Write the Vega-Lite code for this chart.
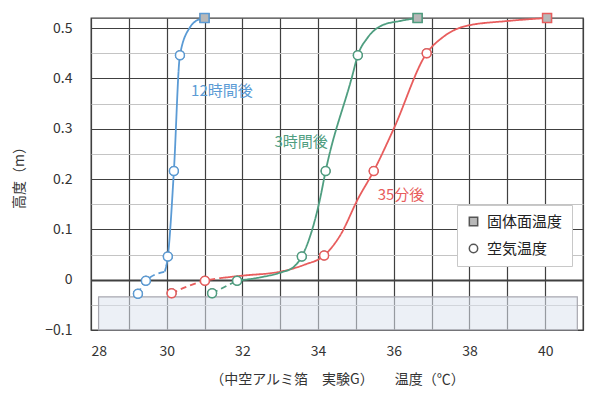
{
  "$schema": "https://vega.github.io/schema/vega-lite/v6.json",
  "width": 492,
  "height": 312,
  "autosize": "none",
  "padding": {"left": 91, "top": 18, "right": 17, "bottom": 77},
  "background": "white",
  "config": {
    "font": "Noto Sans CJK JP",
    "view": {"stroke": "#404040", "strokeWidth": 1.3},
    "axis": {"labelFont": "Noto Sans CJK JP", "titleFont": "Noto Sans CJK JP", "labelColor": "#333", "titleColor": "#333", "titleFontWeight": "normal", "domain": false, "ticks": false},
    "legend": {"orient": "none", "legendX": 366, "legendY": 187, "fillColor": "white", "strokeColor": "#c8c8c8", "padding": 9, "labelFont": "Noto Sans CJK JP", "labelFontSize": 15, "labelColor": "#222", "rowPadding": 11, "symbolSize": 70, "labelOffset": 6}
  },
  "datasets": {
    "lines": [
      {"t": 29.24, "h": -0.028, "series": "12時間後", "seg": "b1", "style": "dashed"},
      {"t": 29.45, "h": -0.002, "series": "12時間後", "seg": "b1", "style": "dashed"},
      {"t": 29.95, "h": 0.016, "series": "12時間後", "seg": "b1", "style": "dashed"},
      {"t": 29.95, "h": 0.016, "series": "12時間後", "seg": "b2", "style": "solid"},
      {"t": 30.03, "h": 0.046, "series": "12時間後", "seg": "b2", "style": "solid"},
      {"t": 30.19, "h": 0.216, "series": "12時間後", "seg": "b2", "style": "solid"},
      {"t": 30.35, "h": 0.446, "series": "12時間後", "seg": "b2", "style": "solid"},
      {"t": 30.62, "h": 0.502, "series": "12時間後", "seg": "b2", "style": "solid"},
      {"t": 30.88, "h": 0.518, "series": "12時間後", "seg": "b2", "style": "solid"},
      {"t": 31.0, "h": 0.52, "series": "12時間後", "seg": "b2", "style": "solid"},
      {"t": 30.13, "h": -0.027, "series": "35分後", "seg": "r1", "style": "dashed"},
      {"t": 31.01, "h": -0.002, "series": "35分後", "seg": "r1", "style": "dashed"},
      {"t": 31.4, "h": 0.003, "series": "35分後", "seg": "r1", "style": "dashed"},
      {"t": 31.4, "h": 0.003, "series": "35分後", "seg": "r2", "style": "solid"},
      {"t": 32.0, "h": 0.008, "series": "35分後", "seg": "r2", "style": "solid"},
      {"t": 33.0, "h": 0.016, "series": "35分後", "seg": "r2", "style": "solid"},
      {"t": 33.65, "h": 0.03, "series": "35分後", "seg": "r2", "style": "solid"},
      {"t": 34.16, "h": 0.048, "series": "35分後", "seg": "r2", "style": "solid"},
      {"t": 34.6, "h": 0.09, "series": "35分後", "seg": "r2", "style": "solid"},
      {"t": 35.05, "h": 0.16, "series": "35分後", "seg": "r2", "style": "solid"},
      {"t": 35.47, "h": 0.216, "series": "35分後", "seg": "r2", "style": "solid"},
      {"t": 36.0, "h": 0.3, "series": "35分後", "seg": "r2", "style": "solid"},
      {"t": 36.87, "h": 0.45, "series": "35分後", "seg": "r2", "style": "solid"},
      {"t": 37.3, "h": 0.482, "series": "35分後", "seg": "r2", "style": "solid"},
      {"t": 37.9, "h": 0.504, "series": "35分後", "seg": "r2", "style": "solid"},
      {"t": 39.0, "h": 0.514, "series": "35分後", "seg": "r2", "style": "solid"},
      {"t": 40.05, "h": 0.52, "series": "35分後", "seg": "r2", "style": "solid"},
      {"t": 31.2, "h": -0.027, "series": "3時間後", "seg": "g1", "style": "dashed"},
      {"t": 31.86, "h": -0.002, "series": "3時間後", "seg": "g1", "style": "dashed"},
      {"t": 31.86, "h": -0.002, "series": "3時間後", "seg": "g2", "style": "solid"},
      {"t": 32.5, "h": 0.005, "series": "3時間後", "seg": "g2", "style": "solid"},
      {"t": 33.0, "h": 0.014, "series": "3時間後", "seg": "g2", "style": "solid"},
      {"t": 33.35, "h": 0.025, "series": "3時間後", "seg": "g2", "style": "solid"},
      {"t": 33.57, "h": 0.046, "series": "3時間後", "seg": "g2", "style": "solid"},
      {"t": 34.05, "h": 0.16, "series": "3時間後", "seg": "g2", "style": "solid"},
      {"t": 34.2, "h": 0.216, "series": "3時間後", "seg": "g2", "style": "solid"},
      {"t": 34.9, "h": 0.404, "series": "3時間後", "seg": "g2", "style": "solid"},
      {"t": 35.05, "h": 0.446, "series": "3時間後", "seg": "g2", "style": "solid"},
      {"t": 35.3, "h": 0.48, "series": "3時間後", "seg": "g2", "style": "solid"},
      {"t": 35.68, "h": 0.505, "series": "3時間後", "seg": "g2", "style": "solid"},
      {"t": 36.16, "h": 0.514, "series": "3時間後", "seg": "g2", "style": "solid"},
      {"t": 36.63, "h": 0.52, "series": "3時間後", "seg": "g2", "style": "solid"}
    ],
    "points": [
      {"t": 29.24, "h": -0.028, "series": "12時間後", "kind": "空気温度"},
      {"t": 29.45, "h": -0.002, "series": "12時間後", "kind": "空気温度"},
      {"t": 30.03, "h": 0.046, "series": "12時間後", "kind": "空気温度"},
      {"t": 30.19, "h": 0.216, "series": "12時間後", "kind": "空気温度"},
      {"t": 30.35, "h": 0.446, "series": "12時間後", "kind": "空気温度"},
      {"t": 31.0, "h": 0.52, "series": "12時間後", "kind": "固体面温度"},
      {"t": 31.2, "h": -0.027, "series": "3時間後", "kind": "空気温度"},
      {"t": 31.86, "h": -0.002, "series": "3時間後", "kind": "空気温度"},
      {"t": 33.57, "h": 0.046, "series": "3時間後", "kind": "空気温度"},
      {"t": 34.2, "h": 0.216, "series": "3時間後", "kind": "空気温度"},
      {"t": 35.05, "h": 0.446, "series": "3時間後", "kind": "空気温度"},
      {"t": 36.63, "h": 0.52, "series": "3時間後", "kind": "固体面温度"},
      {"t": 30.13, "h": -0.027, "series": "35分後", "kind": "空気温度"},
      {"t": 31.01, "h": -0.002, "series": "35分後", "kind": "空気温度"},
      {"t": 34.16, "h": 0.048, "series": "35分後", "kind": "空気温度"},
      {"t": 35.47, "h": 0.216, "series": "35分後", "kind": "空気温度"},
      {"t": 36.87, "h": 0.45, "series": "35分後", "kind": "空気温度"},
      {"t": 40.05, "h": 0.52, "series": "35分後", "kind": "固体面温度"}
    ],
    "labels": [
      {"t": 31.46, "h": 0.374, "series": "12時間後", "label": "12時間後"},
      {"t": 33.55, "h": 0.274, "series": "3時間後", "label": "3時間後"},
      {"t": 36.19, "h": 0.168, "series": "35分後", "label": "35分後"}
    ],
    "box": [{"t": 28.2, "t2": 40.85, "h": -0.034, "h2": -0.1}]
  },
  "encoding": {
    "x": {"field": "t", "type": "quantitative", "scale": {"domain": [28, 41], "nice": false, "zero": false},
      "axis": {"values": [28,29,30,31,32,33,34,35,36,37,38,39,40,41], "labelExpr": "datum.value % 2 === 0 && datum.value <= 40 ? datum.label : ''", "labelFontSize": 14, "labelPadding": 14, "grid": true, "gridColor": "#404040", "gridWidth": 1.2, "gridOpacity": 1,
        "title": "（中空アルミ箔　実験G）　　温度（℃）", "titleFontSize": 14, "titlePadding": 14}},
    "y": {"field": "h", "type": "quantitative", "scale": {"domain": [-0.1, 0.52], "nice": false, "zero": false},
      "axis": {"values": [-0.1,-0.05,0,0.05,0.1,0.15,0.2,0.25,0.3,0.35,0.4,0.45,0.5], "labelExpr": "round(datum.value*100) % 10 === 0 ? (datum.value === 0 ? '0' : format(datum.value, '.1f')) : ''", "labelFontSize": 14, "labelPadding": 19, "grid": true,
        "gridColor": {"condition": {"test": "round(datum.value*100) % 10 === 0", "value": "#404040"}, "value": "#c4c4c4"},
        "gridWidth": {"condition": {"test": "datum.value === 0", "value": 2.2}, "value": 1.2},
        "gridOpacity": 1,
        "title": "高度（m）", "titleFontSize": 14, "titlePadding": 18}}
  },
  "layer": [
    {
      "data": {"name": "box"},
      "mark": {"type": "rect", "fill": "#dde3ef", "fillOpacity": 0.55, "stroke": "#a8a8b0", "strokeWidth": 1.2},
      "encoding": {
        "x2": {"field": "t2"},
        "y2": {"field": "h2"}
      }
    },
    {
      "data": {"name": "lines"},
      "mark": {"type": "line", "interpolate": "monotone", "strokeWidth": 1.8},
      "encoding": {
        "detail": {"field": "seg"},
        "color": {"field": "series", "type": "nominal", "scale": {"domain": ["12時間後", "3時間後", "35分後"], "range": ["#5b9bd5", "#4f9e80", "#e85d5d"]}, "legend": null},
        "strokeDash": {"field": "style", "type": "nominal", "scale": {"domain": ["solid", "dashed"], "range": [[1, 0], [6, 4]]}, "legend": null}
      }
    },
    {
      "data": {"name": "points"},
      "mark": {"type": "point", "strokeWidth": 1.1, "opacity": 1, "size": 80, "stroke": "#555555"},
      "encoding": {
        "shape": {"field": "kind", "type": "nominal", "scale": {"domain": ["固体面温度", "空気温度"], "range": ["square", "circle"]}, "legend": {"title": null}},
        "fill": {"field": "kind", "type": "nominal", "scale": {"domain": ["固体面温度", "空気温度"], "range": ["#b8b8b8", "#ffffff"]}, "legend": {"title": null}}
      }
    },
    {
      "data": {"name": "points"},
      "mark": {"type": "point", "strokeWidth": 1.5, "opacity": 1, "size": 80},
      "encoding": {
        "stroke": {"field": "series", "type": "nominal", "scale": {"domain": ["12時間後", "3時間後", "35分後"], "range": ["#5b9bd5", "#4f9e80", "#e85d5d"]}, "legend": null},
        "shape": {"field": "kind", "type": "nominal", "legend": null},
        "fill": {"field": "kind", "type": "nominal", "legend": null}
      }
    },
    {
      "data": {"name": "labels"},
      "mark": {"type": "text", "fontSize": 15, "fontWeight": "normal", "align": "center", "baseline": "middle"},
      "encoding": {
        "text": {"field": "label"},
        "color": {"field": "series", "type": "nominal"}
      }
    }
  ]
}
